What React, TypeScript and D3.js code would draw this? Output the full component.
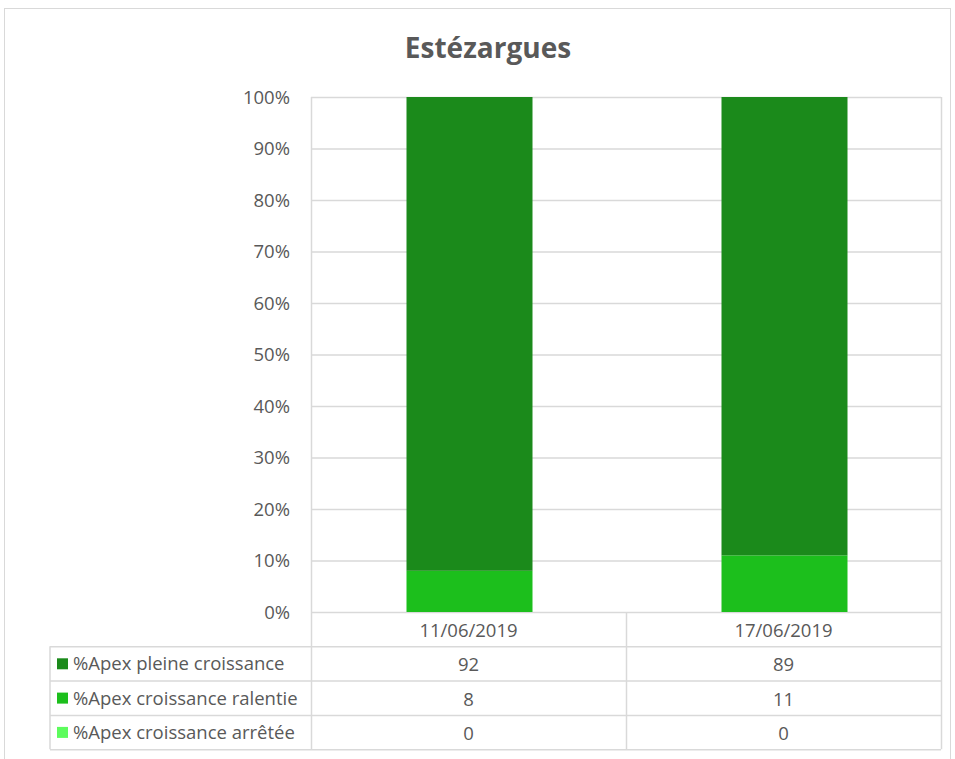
import React from "react";
import * as d3 from "d3";

const categories = ["11/06/2019", "17/06/2019"];
const seriesNames = ["%Apex pleine croissance", "%Apex croissance ralentie", "%Apex croissance arrêtée"];
const pleine = [92, 89];
const ralentie = [8, 11];
const arretee = [0, 0];
const yTicks = [0, 0.1, 0.2, 0.3, 0.4, 0.5, 0.6, 0.7, 0.8, 0.9, 1];
const colors = ["#1b8a1b", "#1cbf1c", "#5dfc5d"];

const W = 955, H = 759;
const plotL = 311, plotR = 941, plotT = 97, plotB = 612;
const tableL = 50;
const rowH = 34.3;
const font = "'Open Sans', sans-serif";
const textColor = "#595959";
const gridColor = "#d9d9d9";
const fs = 18.5;

export default function App() {
  const table = categories.map((c, i) => ({ cat: c, arretee: arretee[i], ralentie: ralentie[i], pleine: pleine[i] }));
  const keys = ["arretee", "ralentie", "pleine"];
  const keyColor: Record<string, string> = { pleine: colors[0], ralentie: colors[1], arretee: colors[2] };
  const stack = d3.stack<any>().keys(keys).offset(d3.stackOffsetExpand);
  const stacked = stack(table);
  const x = d3.scaleBand().domain(categories).range([plotL, plotR]).paddingInner(0.6).paddingOuter(0.3);
  const xc = d3.scaleBand().domain(categories).range([plotL, plotR]);
  const y = d3.scaleLinear().domain([0, 1]).range([plotB, plotT]);
  const fmt = d3.format(".0%");
  const seriesVals = [pleine, ralentie, arretee];

  const rowTop = (r: number) => plotB + r * rowH;
  const tableBottom = rowTop(4);

  return (
    <svg width={W} height={H} style={{ position: "absolute", left: 0, top: 0, background: "#fff" }}>
      <rect x={4.5} y={8.5} width={946} height={760} fill="#fff" stroke="#d9d9d9" />
      <text x={488} y={58} textAnchor="middle" fontFamily={font} fontWeight="bold" fontSize={28} fill={textColor}>Estézargues</text>
      {yTicks.map((t) => (
        <g key={t}>
          <line x1={plotL} x2={plotR} y1={y(t) + 0.5} y2={y(t) + 0.5} stroke={gridColor} strokeWidth={1.5} />
          <text x={290} y={y(t) + 6.5} textAnchor="end" fontFamily={font} fontSize={fs} fill={textColor}>{fmt(t)}</text>
        </g>
      ))}
      {stacked.map((s) => (
        <g key={s.key} fill={keyColor[s.key]}>
          {s.map((d, i) => (
            <rect key={i} x={x(categories[i])! + 1} width={x.bandwidth()} y={y(d[1])} height={Math.max(0, y(d[0]) - y(d[1]))} />
          ))}
        </g>
      ))}
      <g stroke={gridColor} strokeWidth={1.5}>
        <line x1={plotL + 0.5} x2={plotL + 0.5} y1={plotT} y2={tableBottom} />
        <line x1={plotR + 0.5} x2={plotR + 0.5} y1={plotT} y2={tableBottom} />
        <line x1={xc(categories[1])! + 0.5} x2={xc(categories[1])! + 0.5} y1={plotB} y2={tableBottom} />
        <line x1={tableL} x2={tableL} y1={rowTop(1)} y2={tableBottom} />
        {[1, 2, 3, 4].map((r) => (
          <line key={r} x1={tableL} x2={plotR} y1={rowTop(r) + 0.5} y2={rowTop(r) + 0.5} />
        ))}
      </g>
      {categories.map((c) => (
        <text key={c} x={xc(c)! + xc.bandwidth() / 2} y={rowTop(0) + 25} textAnchor="middle" fontFamily={font} fontSize={fs} fill={textColor}>{c}</text>
      ))}
      {seriesNames.map((n, r) => (
        <g key={n}>
          <rect x={57} y={rowTop(r + 1) + 12} width={11} height={11} fill={colors[r]} />
          <text x={73} y={rowTop(r + 1) + 24} fontFamily={font} fontSize={fs} fill={textColor}>{n}</text>
          {categories.map((c, i) => (
            <text key={c} x={xc(c)! + xc.bandwidth() / 2} y={rowTop(r + 1) + 25} textAnchor="middle" fontFamily={font} fontSize={fs} fill={textColor}>{seriesVals[r][i]}</text>
          ))}
        </g>
      ))}
    </svg>
  );
}
